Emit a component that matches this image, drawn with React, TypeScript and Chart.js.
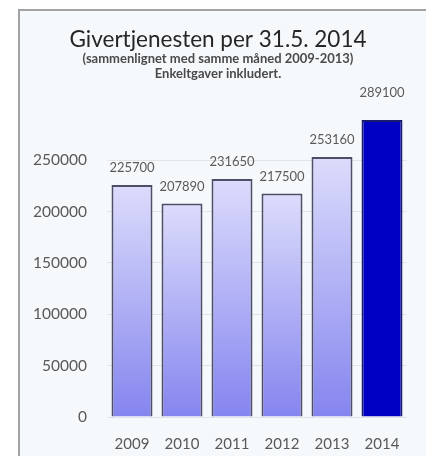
import React, { useEffect, useRef } from "react";
import { Chart, registerables } from "chart.js";

Chart.register(...registerables);

const categories = ["2009", "2010", "2011", "2012", "2013", "2014"];
const values = [225700, 207890, 231650, 217500, 253160, 289100];
const highlightIndex = 5;
const titleText = "Givertjenesten per 31.5. 2014";
const subtitleLines = ["(sammenlignet med samme måned 2009-2013)", "Enkeltgaver inkludert."];

const FONT = "Lato, 'Open Sans', 'Noto Sans', sans-serif";

const valueLabels = {
  id: "valueLabels",
  afterDatasetsDraw(chart: any) {
    const ctx = chart.ctx;
    const meta = chart.getDatasetMeta(0);
    ctx.save();
    ctx.font = `13px ${FONT}`;
    ctx.fillStyle = "#5a5a5a";
    ctx.textAlign = "center";
    ctx.textBaseline = "middle";
    meta.data.forEach((bar: any, i: number) => {
      const off = i === highlightIndex ? 27 : 17;
      ctx.fillText(String(values[i]), bar.x, bar.y - off);
    });
    ctx.restore();
  },
};

export default function App() {
  const ref = useRef<HTMLCanvasElement | null>(null);

  useEffect(() => {
    if (!ref.current) return;
    const chart = new Chart(ref.current, {
      type: "bar",
      data: {
        labels: categories,
        datasets: [
          {
            data: values,
            backgroundColor: (c: any) => {
              if (c.dataIndex === highlightIndex) return "#0000c4";
              const ch = c.chart;
              const area = ch.chartArea;
              if (!area || !ch.scales.y) return "#b0b0f4";
              const y0 = ch.scales.y.getPixelForValue(0);
              const y1 = ch.scales.y.getPixelForValue(values[c.dataIndex]);
              const g = ch.ctx.createLinearGradient(0, y1, 0, y0);
              g.addColorStop(0, "#dcdcfc");
              g.addColorStop(1, "#8585ef");
              return g;
            },
            borderColor: (c: any) => (c.dataIndex === highlightIndex ? "#1a1a70" : "#4e4e68"),
            borderWidth: 2,
            barPercentage: 0.82,
            categoryPercentage: 1,
          },
        ],
      },
      options: {
        animation: false,
        responsive: false,
        maintainAspectRatio: false,
        layout: { padding: { left: 29, right: 19, top: 0, bottom: 0 } },
        plugins: {
          legend: { display: false },
          tooltip: { enabled: false },
          title: {
            display: true,
            text: titleText,
            color: "#262626",
            font: { family: FONT, size: 22.5, weight: "normal" as any, lineHeight: 1.1 },
            padding: { top: 27, bottom: 0 },
          },
          subtitle: {
            display: true,
            text: subtitleLines,
            color: "#4a4a4a",
            font: { family: FONT, size: 13, weight: "bold" as any, lineHeight: "15px" as any },
            padding: { top: 0, bottom: 27 },
          },
        },
        scales: {
          x: {
            grid: { display: false },
            border: { display: false },
            ticks: { color: "#595959", font: { family: FONT, size: 15 }, padding: 10 },
            afterFit: (s: any) => {
              s.height = 43;
            },
          },
          y: {
            min: 0,
            max: 300000,
            border: { display: false },
            grid: {
              color: (c: any) => (c.tick && c.tick.value === 300000 ? "rgba(0,0,0,0)" : "#e2e4e8"),
              drawTicks: false,
            },
            ticks: {
              stepSize: 50000,
              color: "#595959",
              font: { family: FONT, size: 15.5 },
              padding: 20,
              callback: (v: any) => (v === 300000 ? "" : String(v)),
            },
            afterFit: (s: any) => {
              s.width = 78;
            },
          },
        },
      },
      plugins: [valueLabels],
    });
    return () => chart.destroy();
  }, []);

  return (
    <div style={{ position: "absolute", left: 0, top: 0, width: 426, height: 460, background: "#ffffff", overflow: "hidden" }}>
      <div
        style={{
          position: "absolute",
          left: 18,
          top: 9,
          width: 420,
          height: 445,
          borderLeft: "2px solid #a3a3a3",
          borderTop: "2px solid #a3a3a3",
          background: "#f6f9fc",
        }}
      />
      <canvas ref={ref} width={426} height={460} style={{ position: "absolute", left: 0, top: 0, width: 426, height: 460 }} />
    </div>
  );
}
